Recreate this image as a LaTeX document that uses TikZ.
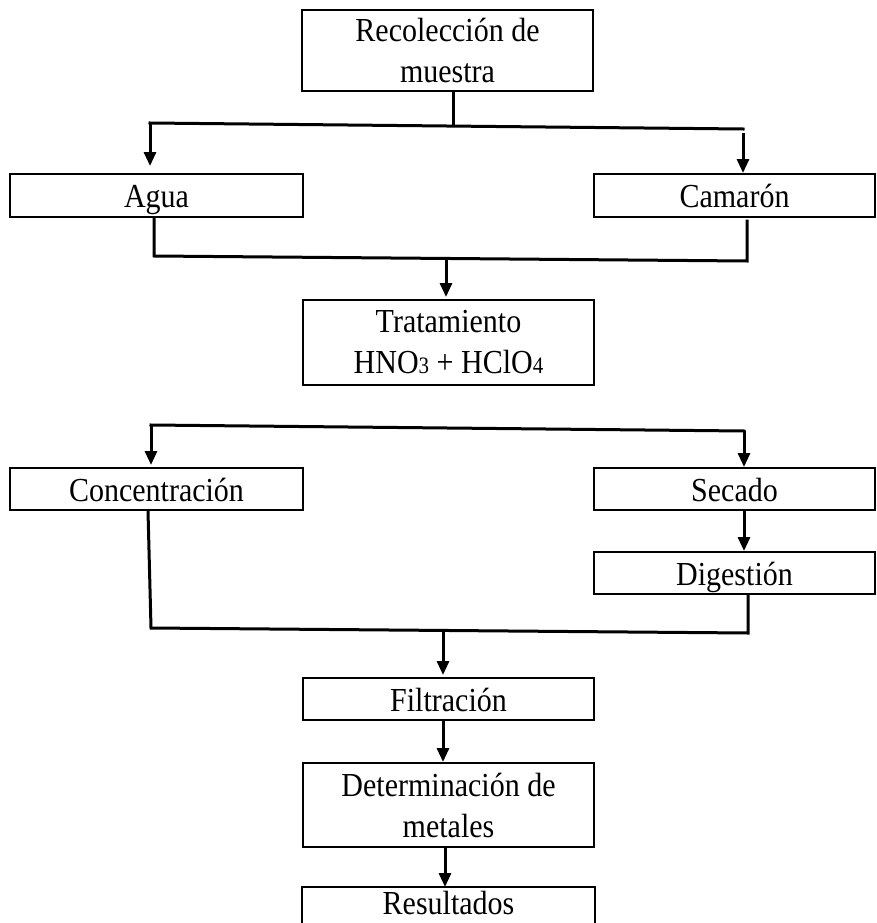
\documentclass[tikz,border=0pt]{standalone}
\usepackage{fontspec}
\usepackage{graphicx}
\setmainfont{Liberation Serif}
\usetikzlibrary{arrows.meta,calc}
\newcommand{\tx}[1]{\scalebox{1}[1.12]{#1}}
\newcommand{\subsm}[1]{{\fontsize{21}{21}\selectfont #1}}
\begin{document}
\begin{tikzpicture}[x=1pt,y=-1pt,
  box/.style={draw,line width=2pt,inner sep=0pt,align=center,
    font=\fontsize{30}{41}\selectfont},
  one/.style={box,text height=30pt,text depth=6pt},
  conn/.style={line width=3pt,line cap=rect},
  arr/.style={line width=3pt,-{Triangle[length=14pt,width=12pt]}}]
\useasboundingbox (0,0) rectangle (877,923);
\begin{scope}
\clip (0,0) rectangle (877,923);
% boxes
\node[box,minimum width=291pt,minimum height=81pt] (rec) at (447.5,50.5) {\tx{Recolección de}\\\tx{muestra}};
\node[one,minimum width=293pt,minimum height=43pt] (agua) at (156.5,195.5) {\tx{Agua}};
\node[one,minimum width=281pt,minimum height=43pt] (cam) at (734.5,195.5) {\tx{Camarón}};
\node[box,minimum width=291pt,minimum height=85pt] (trat) at (448.5,342.5) {\tx{Tratamiento}\\\tx{HNO\subsm{3} + HClO\subsm{4}}};
\node[one,minimum width=293pt,minimum height=42pt] (conc) at (156.5,489) {\tx{Concentración}};
\node[one,minimum width=281pt,minimum height=42pt] (sec) at (734.5,489) {\tx{Secado}};
\node[one,minimum width=281pt,minimum height=42pt] (dig) at (734.5,573) {\tx{Digestión}};
\node[one,minimum width=291pt,minimum height=42pt] (filt) at (448.5,699) {\tx{Filtración}};
\node[box,minimum width=291pt,minimum height=84pt] (det) at (448.5,805) {\tx{Determinación de}\\\tx{metales}};
\node[box,draw=none,text height=26pt,text depth=7pt,minimum width=291pt,minimum height=33pt] (res) at (448.5,904.5) {\tx{Resultados}};
\draw[line width=2pt] ($(res.south west)+(0,12)$) -- (res.north west) -- (res.north east) -- ($(res.south east)+(0,12)$);
% junction coordinates
\coordinate (s1) at (453,126);
\coordinate (s1l) at (150,123);
\coordinate (s1r) at (743,129);
\coordinate (m1l) at (154,256);
\coordinate (m1r) at (747,261);
\coordinate (m1c) at (446,258);
\coordinate (s2l) at (151,425);
\coordinate (s2r) at (744,431);
\coordinate (m2l) at (151,628);
\coordinate (m2r) at (748,633);
\coordinate (m2c) at (443,632);
% split 1
\draw[conn] (rec.south -| s1) -- (s1);
\draw[conn] (s1l) -- (s1r);
\draw[arr,shorten >=7pt] (s1l) -- (agua.north -| s1l);
\draw[arr,shorten <=4pt] (s1r) -- (cam.north -| s1r);
% merge 1
\draw[conn] (agua.south -| m1l) -- (m1l) -- (m1r) -- ($(cam.south -| m1r)+(0,3)$);
\draw[arr,shorten >=2pt] (m1c) -- (trat.north -| m1c);
% split 2
\draw[conn] (s2l) -- (s2r);
\draw[arr,shorten >=2pt] (s2l) -- (conc.north -| s2l);
\draw[arr] (s2r) -- (sec.north -| s2r);
\draw[arr] (sec.south -| s2r) -- (dig.north -| s2r);
% merge 2
\draw[conn] ($(conc.south)+(-8.5,0)$) -- (m2l) -- (m2r) -- (dig.south -| m2r);
\draw[arr,shorten >=2pt] (m2c) -- (filt.north -| m2c);
\draw[arr] (filt.south -| m2c) -- (det.north -| m2c);
\draw[arr] ($(det.south)+(-3.5,0)$) -- ($(res.north)+(-3.5,0)$);
\end{scope}
\end{tikzpicture}
\end{document}
